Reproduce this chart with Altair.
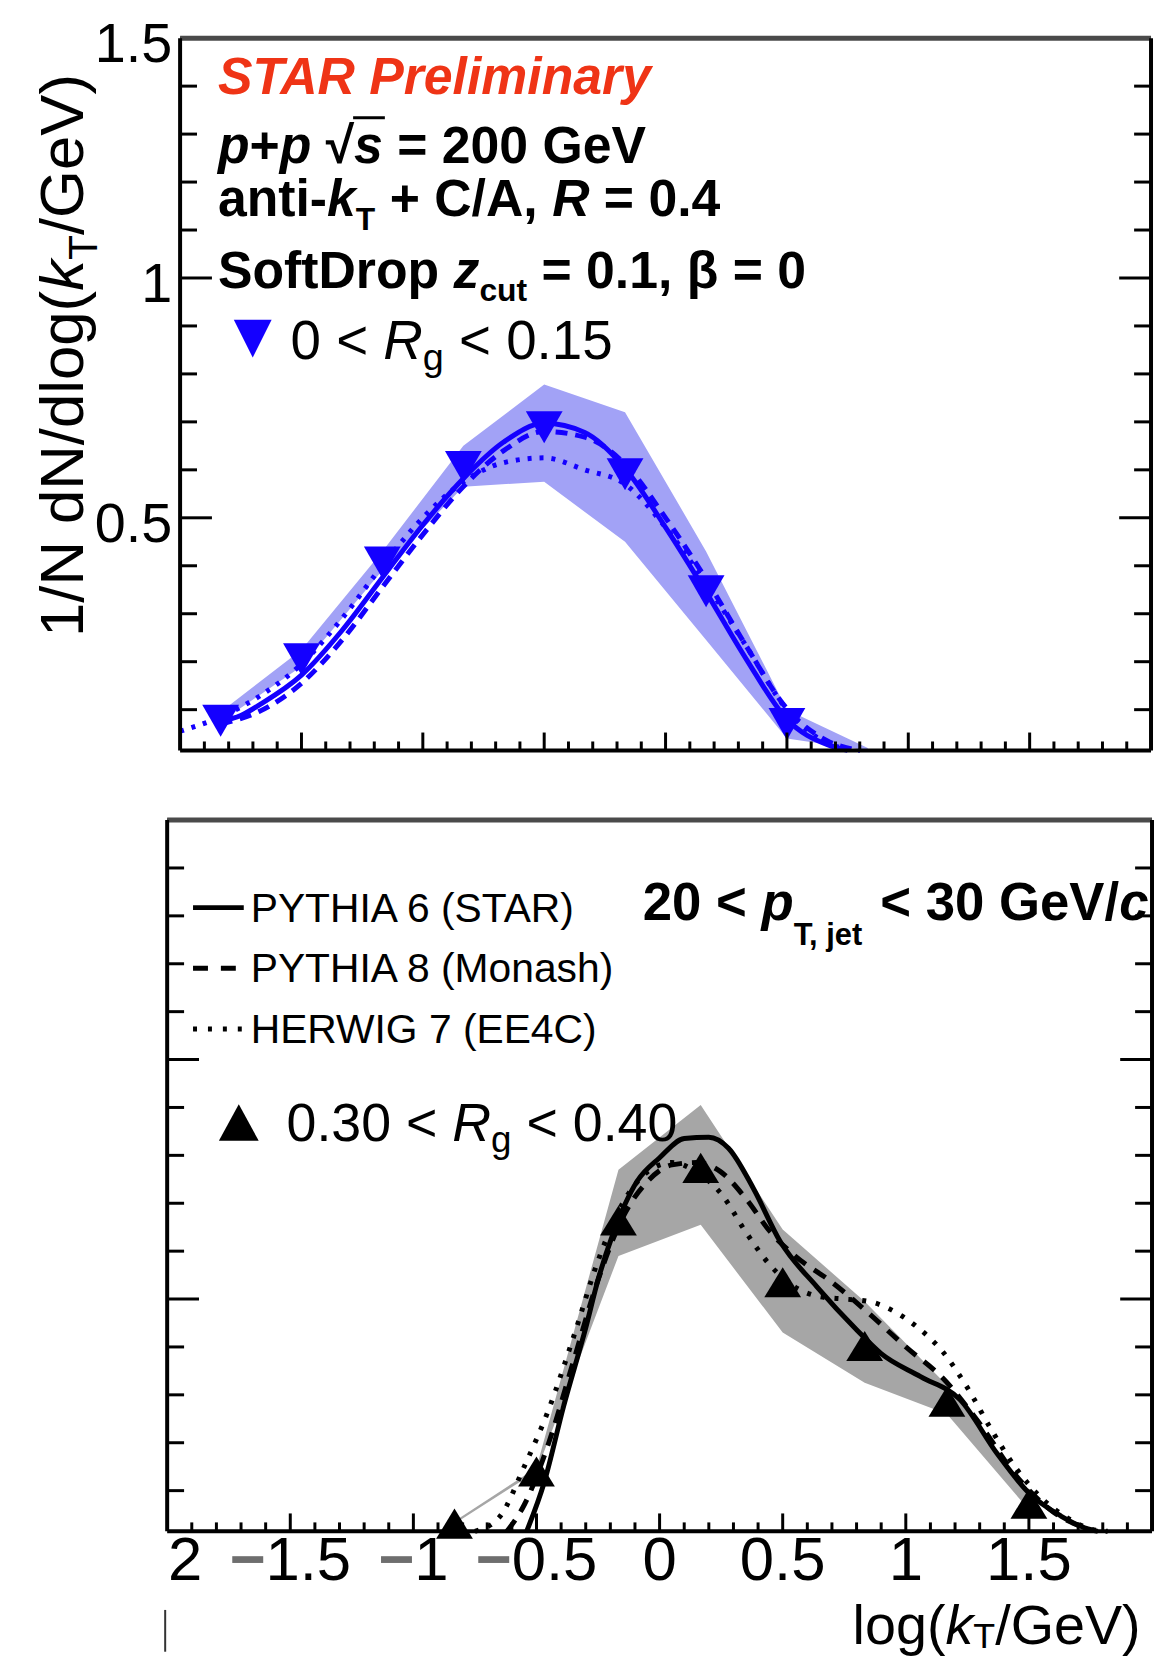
import altair as alt
import pandas as pd

# ------------------------------------------------------------------ data
# upper panel : 0 < Rg < 0.15 (blue)
top_pts_x = [-1.833, -1.5, -1.167, -0.833, -0.5, -0.167, 0.167, 0.5]
top_pts_y = [0.077, 0.205, 0.407, 0.606, 0.689, 0.591, 0.347, 0.070]

top_sys_x = [-1.833, -1.5, -1.167, -0.833, -0.5, -0.167, 0.167, 0.5, 0.833]
top_sys_hi = [0.095, 0.225, 0.43, 0.65, 0.778, 0.72, 0.43, 0.10, 0.02]
top_sys_lo = [0.075, 0.19, 0.39, 0.565, 0.575, 0.45, 0.245, 0.04, 0.015]

top_p6_x = [-1.833, -1.75, -1.667, -1.5, -1.333, -1.167, -1.0, -0.833, -0.667, -0.5,
            -0.333, -0.167, 0.0, 0.167, 0.333, 0.5, 0.667, 0.75]
top_p6_y = [0.076, 0.088, 0.112, 0.172, 0.265, 0.375, 0.485, 0.582, 0.658, 0.697,
            0.678, 0.603, 0.48, 0.345, 0.205, 0.08, 0.027, 0.015]

top_p8_x = [-1.833, -1.667, -1.5, -1.333, -1.167, -1.0, -0.833, -0.667, -0.5,
            -0.333, -0.167, 0.0, 0.167, 0.333, 0.5, 0.667, 0.8]
top_p8_y = [0.07, 0.098, 0.155, 0.245, 0.355, 0.465, 0.565, 0.64, 0.68,
            0.668, 0.612, 0.50, 0.372, 0.232, 0.102, 0.035, 0.015]

top_h7_x = [-2.0, -1.833, -1.667, -1.5, -1.333, -1.167, -1.0, -0.833, -0.667, -0.5,
            -0.333, -0.167, 0.0, 0.167, 0.333, 0.5, 0.667, 0.8]
top_h7_y = [0.055, 0.085, 0.13, 0.195, 0.29, 0.40, 0.50, 0.575, 0.615, 0.625,
            0.60, 0.57, 0.48, 0.362, 0.232, 0.10, 0.03, 0.015]

# lower panel : 0.30 < Rg < 0.40 (black)
bot_pts_x = [-0.833, -0.5, -0.167, 0.167, 0.5, 0.833, 1.167, 1.5]
bot_pts_y = [0.031, 0.14, 0.664, 0.774, 0.535, 0.402, 0.286, 0.073]

bot_sys_x = [-0.833, -0.5, -0.167, 0.167, 0.5, 0.833, 1.167, 1.5]
bot_sys_hi = [0.036, 0.148, 0.77, 0.905, 0.645, 0.495, 0.32, 0.095]
bot_sys_lo = [0.031, 0.14, 0.59, 0.655, 0.43, 0.325, 0.26, 0.06]

bot_p6_x = [-0.54, -0.47, -0.39, -0.3, -0.25, -0.19, -0.09, 0.0, 0.1, 0.2, 0.28, 0.38,
            0.49, 0.64, 0.8, 0.9, 1.06, 1.22, 1.37, 1.5, 1.63, 1.74, 1.78]
bot_p6_y = [0.015, 0.115, 0.276, 0.44, 0.54, 0.635, 0.747, 0.795, 0.835, 0.838, 0.815, 0.732,
            0.62, 0.525, 0.436, 0.386, 0.338, 0.29, 0.178, 0.095, 0.047, 0.02, 0.015]

bot_p8_x = [-0.62, -0.55, -0.45, -0.35, -0.25, -0.15, -0.05, 0.05, 0.15, 0.25, 0.35,
            0.45, 0.55, 0.7, 0.85, 1.0, 1.15, 1.3, 1.45, 1.6, 1.75]
bot_p8_y = [0.015, 0.07, 0.20, 0.37, 0.54, 0.67, 0.745, 0.78, 0.785, 0.765, 0.71,
            0.64, 0.59, 0.535, 0.47, 0.40, 0.335, 0.24, 0.13, 0.055, 0.018]

bot_h7_x = [-0.75, -0.65, -0.55, -0.45, -0.35, -0.25, -0.15, -0.05, 0.05, 0.15, 0.25,
            0.35, 0.45, 0.55, 0.65, 0.75, 0.85, 0.95, 1.05, 1.15, 1.25, 1.35, 1.45,
            1.55, 1.65, 1.75, 1.82]
bot_h7_y = [0.015, 0.045, 0.15, 0.27, 0.42, 0.58, 0.70, 0.765, 0.785, 0.765, 0.72,
            0.64, 0.57, 0.525, 0.505, 0.50, 0.495, 0.475, 0.44, 0.39, 0.315, 0.225, 0.145,
            0.085, 0.045, 0.02, 0.015]

x_label_vals = [-2, -1.5, -1, -0.5, 0, 0.5, 1, 1.5]
y_label_vals = [1.5, 1.0, 0.5]
y_label_txt = ["1.5", "1", "0.5"]

X_MAJOR = [-1.5, -1.0, -0.5, 0.0, 0.5, 1.0, 1.5]
X_MINOR = [v / 10 for v in range(-19, 20) if v % 5 != 0]
Y_MAJOR = [0.5, 1.0, 1.5]
Y_MINOR = [v / 10 for v in range(1, 15) if v % 5 != 0]

legend_names = ["PYTHIA 6 (STAR)", "PYTHIA 8 (Monash)", "HERWIG 7 (EE4C)"]

# ------------------------------------------------------------------ style / layout
FONT = "Liberation Sans"
BLUE = "#1400ff"
BLUE_BAND = "#a2a2f6"
GREY_BAND = "#a6a6a6"
RED = "#ef3416"

W = 1150
H_TOP, H_BOT, GAP = 770, 852, 20
TOP_FR = dict(L=173, R=1149, T=26, B=742)
BOT_FR = dict(L=160, R=1150, T=22, B=737)
X_LO, X_HI = -2.0, 2.0
Y_LO, Y_HI = 0.015, 1.5

REG = {' ': 278, '(': 333, ')': 333, '+': 584, ',': 278, '-': 333, '.': 278, '/': 278,
       '<': 584, '=': 584, '>': 584, '\u2212': 584, '\u221a': 549, '\u03b2': 556}
BLD = dict(REG)
BLD['\u03b2'] = 611
for ch in "0123456789":
    REG[ch] = 556
    BLD[ch] = 556
for ch, w in zip("ABCDEFGHIJKLMNOPQRSTUVWXYZ",
                 [667, 667, 722, 722, 667, 611, 778, 722, 278, 500, 667, 556, 833, 722, 778,
                  667, 778, 722, 667, 611, 722, 667, 944, 667, 667, 611]):
    REG[ch] = w
for ch, w in zip("abcdefghijklmnopqrstuvwxyz",
                 [556, 556, 500, 556, 556, 278, 556, 556, 222, 222, 500, 222, 833, 556, 556,
                  556, 556, 333, 500, 278, 556, 500, 722, 500, 500, 500]):
    REG[ch] = w
for ch, w in zip("ABCDEFGHIJKLMNOPQRSTUVWXYZ",
                 [722, 722, 722, 722, 667, 611, 778, 722, 278, 556, 722, 611, 833, 722, 778,
                  667, 778, 722, 667, 611, 722, 667, 944, 667, 667, 611]):
    BLD[ch] = w
for ch, w in zip("abcdefghijklmnopqrstuvwxyz",
                 [556, 611, 556, 611, 556, 333, 611, 611, 278, 278, 556, 278, 889, 611, 611,
                  611, 611, 389, 556, 333, 611, 556, 778, 556, 556, 500]):
    BLD[ch] = w


def tw(txt, size, bold=False):
    tbl = BLD if bold else REG
    return sum(tbl.get(c, 556) for c in txt) * size / 1000.0


dummy = pd.DataFrame({"d": [0]})


def scales(fr, H):
    kx = (X_HI - X_LO) / (fr["R"] - fr["L"])
    xd = [X_LO - fr["L"] * kx, X_LO + (W - fr["L"]) * kx]
    ky = (Y_HI - Y_LO) / (fr["B"] - fr["T"])
    yd = [Y_LO - (H - fr["B"]) * ky, Y_HI + fr["T"] * ky]
    return (alt.Scale(domain=xd, nice=False, zero=False),
            alt.Scale(domain=yd, nice=False, zero=False))


def text(txt, x, y, size, bold=False, italic=False, color="black", angle=0,
         align="left", baseline="alphabetic"):
    kw = dict(text=txt, font=FONT, fontSize=size, color=color, align=align,
              baseline=baseline)
    if bold:
        kw["fontWeight"] = "bold"
    if italic:
        kw["fontStyle"] = "italic"
    if angle:
        kw["angle"] = angle
    return alt.Chart(dummy).mark_text(**kw).encode(x=alt.value(x), y=alt.value(y))


def rich(x, y, segs, angle=0):
    """lay out text pieces one after another (SVG drops edge spaces, so
    spaces are turned into advances)."""
    out, pos = [], 0.0
    for s in segs:
        t, size = s["t"], s["s"]
        b, i, dy, c = s.get("b", False), s.get("i", False), s.get("dy", 0), s.get("c", "black")
        sp = tw(" ", size, b)
        lead = len(t) - len(t.lstrip(" "))
        trail = len(t) - len(t.rstrip(" "))
        core = t.strip(" ")
        pos += lead * sp
        if core:
            if angle == 270:
                out.append(text(core, x + dy, y - pos, size, b, i, c, angle=270))
            else:
                out.append(text(core, x + pos, y + dy, size, b, i, c))
        pos += tw(core, size, b) + trail * sp
    return out, pos


def curve(xs_, ys_, xsc, ysc, color, width, dash=None):
    df = pd.DataFrame({"x": xs_, "y": ys_})
    kw = dict(color=color, strokeWidth=width, interpolate="monotone")
    if dash:
        kw["strokeDash"] = dash
    return alt.Chart(df).mark_line(**kw).encode(
        x=alt.X("x:Q", scale=xsc, axis=None), y=alt.Y("y:Q", scale=ysc, axis=None))


def band(xs_, hi, lo, xsc, ysc, color):
    df = pd.DataFrame({"x": xs_, "hi": hi, "lo": lo})
    return alt.Chart(df).mark_area(color=color, opacity=1, interpolate="linear").encode(
        x=alt.X("x:Q", scale=xsc, axis=None), y=alt.Y("hi:Q", scale=ysc, axis=None),
        y2="lo:Q")


def points(xs_, ys_, xsc, ysc, shape, size, color):
    df = pd.DataFrame({"x": xs_, "y": ys_})
    return alt.Chart(df).mark_point(shape=shape, filled=True, size=size, color=color,
                                    opacity=1).encode(
        x=alt.X("x:Q", scale=xsc, axis=None), y=alt.Y("y:Q", scale=ysc, axis=None))


def frame(fr, xsc, ysc):
    L, R, T, B = fr["L"], fr["R"], fr["T"], fr["B"]
    lay = []
    for vals, ln in ((X_MAJOR, 18), (X_MINOR, 9)):
        df = pd.DataFrame({"v": vals})
        lay.append(alt.Chart(df).mark_rule(color="black", strokeWidth=3).encode(
            x=alt.X("v:Q", scale=xsc, axis=None), y=alt.value(B), y2=alt.value(B - ln)))
    for vals, ln in ((Y_MAJOR, 32), (Y_MINOR, 17)):
        df = pd.DataFrame({"v": vals})
        lay.append(alt.Chart(df).mark_rule(color="black", strokeWidth=3).encode(
            y=alt.Y("v:Q", scale=ysc, axis=None), x=alt.value(L), x2=alt.value(L + ln)))
        lay.append(alt.Chart(df).mark_rule(color="black", strokeWidth=3).encode(
            y=alt.Y("v:Q", scale=ysc, axis=None), x=alt.value(R - ln), x2=alt.value(R)))
    lay.append(alt.Chart(dummy).mark_rule(color="#4a4a4a", strokeWidth=5).encode(
        x=alt.value(L), x2=alt.value(R), y=alt.value(T)))
    lay.append(alt.Chart(dummy).mark_rule(color="black", strokeWidth=4).encode(
        x=alt.value(L), x2=alt.value(R), y=alt.value(B)))
    lay.append(alt.Chart(dummy).mark_rule(color="black", strokeWidth=4).encode(
        x=alt.value(L), y=alt.value(T), y2=alt.value(B)))
    lay.append(alt.Chart(dummy).mark_rule(color="black", strokeWidth=4).encode(
        x=alt.value(R), y=alt.value(T), y2=alt.value(B)))
    return lay


TRI_DOWN = "M-1,-0.87L1,-0.87L0,0.87Z"
TRI_DOWN_LEG = "M-1,-1L1,-1L0,1Z"
TRI_UP = "M-1,0.82L1,0.82L0,-0.82Z"
TRI_UP_LEG = "M-1,0.92L1,0.92L0,-0.92Z"

# ------------------------------------------------------------------ upper panel
xs_t, ys_t = scales(TOP_FR, H_TOP)
top_layers = [
    band(top_sys_x, top_sys_hi, top_sys_lo, xs_t, ys_t, BLUE_BAND),
    curve(top_h7_x, top_h7_y, xs_t, ys_t, BLUE, 5, [4, 8]),
    curve(top_p8_x, top_p8_y, xs_t, ys_t, BLUE, 5, [12, 8]),
    curve(top_p6_x, top_p6_y, xs_t, ys_t, BLUE, 5),
    points(top_pts_x, top_pts_y, xs_t, ys_t, TRI_DOWN, 1369, BLUE),
]
top_layers += frame(TOP_FR, xs_t, ys_t)

# y tick labels
ylab_df = pd.DataFrame({"v": y_label_vals, "t": y_label_txt})
top_layers.append(alt.Chart(ylab_df).mark_text(font=FONT, fontSize=56, align="right",
                                                baseline="middle", dy=7, color="black").encode(
    y=alt.Y("v:Q", scale=ys_t, axis=None), x=alt.value(TOP_FR["L"] - 8), text="t:N"))

# y axis title (rotated, anchored at the top end)
ttl_segs = [dict(t="1/N dN/dlog(", s=62), dict(t="k", s=62, i=True),
            dict(t="T", s=41, dy=14), dict(t="/GeV)", s=62)]
tot = sum(tw(s["t"], s["s"]) for s in ttl_segs)
lay, _ = rich(75, 62 + tot, ttl_segs, angle=270)
top_layers += lay

# annotation text
top_layers.append(text("STAR Preliminary", 211, 82, 52, bold=True, italic=True, color=RED))
pp_segs = [dict(t="p", s=52, b=True, i=True), dict(t="+", s=52, b=True),
           dict(t="p", s=52, b=True, i=True), dict(t=" \u221a", s=52, b=True),
           dict(t="s", s=52, b=True, i=True), dict(t=" = 200 GeV", s=52, b=True)]
lay, _ = rich(211, 151, pp_segs)
top_layers += lay
s_start = 211 + sum(tw(s["t"], s["s"], True) for s in pp_segs[:4])
s_end = s_start + tw("s", 52, True)
top_layers.append(alt.Chart(dummy).mark_rule(color="black", strokeWidth=3).encode(
    x=alt.value(s_start - 1), x2=alt.value(s_end + 2), y=alt.value(106)))

ak_segs = [dict(t="anti-", s=52, b=True), dict(t="k", s=52, b=True, i=True),
           dict(t="T", s=32, b=True, dy=14), dict(t=" + C/A, ", s=52, b=True),
           dict(t="R", s=52, b=True, i=True), dict(t=" = 0.4", s=52, b=True)]
lay, _ = rich(211, 205, ak_segs)
top_layers += lay
sd_segs = [dict(t="SoftDrop ", s=52, b=True), dict(t="z", s=52, b=True, i=True),
           dict(t="cut", s=32, b=True, dy=13), dict(t=" = 0.1, \u03b2 = 0", s=52, b=True)]
lay, _ = rich(211, 277, sd_segs)
top_layers += lay

top_layers.append(alt.Chart(dummy).mark_point(shape=TRI_DOWN_LEG, filled=True, size=1444,
                                               color=BLUE, opacity=1).encode(
    x=alt.value(246), y=alt.value(328)))
rg1_segs = [dict(t="0 < ", s=55), dict(t="R", s=55, i=True), dict(t="g", s=38, dy=11),
            dict(t=" < 0.15", s=55)]
lay, _ = rich(284, 349, rg1_segs)
top_layers += lay

top = alt.layer(*top_layers).properties(width=W, height=H_TOP)

# ------------------------------------------------------------------ lower panel
xs_b, ys_b = scales(BOT_FR, H_BOT)
bot_layers = [
    band(bot_sys_x, bot_sys_hi, bot_sys_lo, xs_b, ys_b, GREY_BAND),
    curve(bot_h7_x, bot_h7_y, xs_b, ys_b, "black", 5, [4, 10]),
    curve(bot_p8_x, bot_p8_y, xs_b, ys_b, "black", 5, [14, 10]),
    curve(bot_p6_x, bot_p6_y, xs_b, ys_b, "black", 5),
    points(bot_pts_x, bot_pts_y, xs_b, ys_b, TRI_UP, 1369, "black"),
]
bot_layers += frame(BOT_FR, xs_b, ys_b)

# legend
leg_y = [110, 171, 232]
leg_dash = [None, [15, 13], [4, 11]]
for name, yy, dsh in zip(legend_names, leg_y, leg_dash):
    kw = dict(color="black", strokeWidth=5)
    if dsh:
        kw["strokeDash"] = dsh
    bot_layers.append(alt.Chart(dummy).mark_rule(**kw).encode(
        x=alt.value(186), x2=alt.value(237), y=alt.value(yy)))
    bot_layers.append(text(name, 244, yy + 14, 41))

pt_segs = [dict(t="20 < ", s=53, b=True), dict(t="p", s=53, b=True, i=True),
           dict(t="T, jet", s=31, b=True, dy=26), dict(t=" < 30 GeV/", s=53, b=True),
           dict(t="c", s=53, b=True, i=True)]
lay, _ = rich(638, 122, pt_segs)
bot_layers += lay

bot_layers.append(alt.Chart(dummy).mark_point(shape=TRI_UP_LEG, filled=True, size=1600,
                                               color="black", opacity=1).encode(
    x=alt.value(232), y=alt.value(326)))
rg2_segs = [dict(t="0.30 < ", s=54), dict(t="R", s=54, i=True), dict(t="g", s=37, dy=11),
            dict(t=" < 0.40", s=54)]
lay, _ = rich(280, 345, rg2_segs)
bot_layers += lay

# x tick labels (minus sign rendered grey, the one of -2 is cut by the frame)
LAB = 62
for v in x_label_vals:
    num = f"{abs(v):g}"
    mw = tw("\u2212", LAB) if v < 0 else 0.0
    total = mw + tw(num, LAB)
    df = pd.DataFrame({"v": [v]})
    enc = dict(x=alt.X("v:Q", scale=xs_b, axis=None), y=alt.value(786))
    bot_layers.append(alt.Chart(df).mark_text(text=num, font=FONT, fontSize=LAB, align="left",
                                              baseline="alphabetic",
                                              dx=-total / 2 + mw, color="black").encode(**enc))
    if -2 < v < 0:
        bot_layers.append(alt.Chart(df).mark_text(text="\u2212", font=FONT, fontSize=LAB,
                                                  fontWeight="bold", align="left",
                                                  baseline="alphabetic", dx=-total / 2,
                                                  color="#6e6e6e").encode(**enc))

xt_segs = [dict(t="log(", s=56), dict(t="k", s=56, i=True), dict(t="T", s=36, dy=4),
           dict(t="/GeV)", s=56)]
lay, _ = rich(849, 850, xt_segs)
bot_layers += lay

bot_layers.append(alt.Chart(dummy).mark_rule(color="#333333", strokeWidth=2).encode(
    x=alt.value(158), y=alt.value(816), y2=alt.value(858)))

bottom = alt.layer(*bot_layers).properties(width=W, height=H_BOT)

chart = alt.vconcat(top, bottom, spacing=GAP, padding=0).configure_view(strokeWidth=0)
chart.save("out.html", embed_options={"renderer": "svg", "actions": False})
